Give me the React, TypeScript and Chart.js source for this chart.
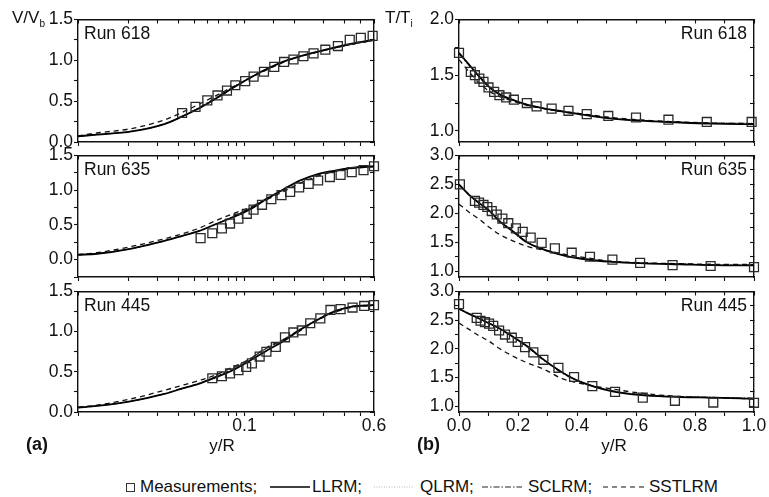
import React, { useEffect, useRef } from 'react';
import { Chart, registerables } from 'chart.js';

Chart.register(...registerables);

const FONT_FAMILY = "'Liberation Sans', Arial, Helvetica, sans-serif";

// ---------- Left column (V/Vb vs y/R, log x) ----------
const LEFT_X = [0.01, 0.013, 0.021, 0.033, 0.042, 0.053, 0.067, 0.085, 0.107, 0.135, 0.171, 0.215, 0.273, 0.345, 0.435, 0.6];

const V618_LLRM = [0.07, 0.09, 0.13, 0.22, 0.31, 0.41, 0.53, 0.66, 0.78, 0.89, 0.985, 1.05, 1.105, 1.155, 1.2, 1.25];
const V618_QLRM = [0.07, 0.09, 0.135, 0.225, 0.315, 0.415, 0.535, 0.66, 0.775, 0.885, 0.98, 1.05, 1.11, 1.16, 1.205, 1.255];
const V618_SCLRM = [0.07, 0.09, 0.13, 0.22, 0.31, 0.42, 0.54, 0.67, 0.785, 0.89, 0.98, 1.045, 1.1, 1.15, 1.195, 1.245];
const V618_SSTLRM = [0.075, 0.11, 0.165, 0.27, 0.36, 0.46, 0.565, 0.675, 0.78, 0.88, 0.975, 1.045, 1.1, 1.15, 1.2, 1.25];
const V618_MEAS_X = [0.0422, 0.0508, 0.0598, 0.0689, 0.0785, 0.0881, 0.101, 0.1135, 0.131, 0.151, 0.173, 0.197, 0.226, 0.26, 0.306, 0.364, 0.429, 0.5, 0.589];
const V618_MEAS_Y = [0.355, 0.43, 0.51, 0.57, 0.63, 0.695, 0.745, 0.8, 0.86, 0.92, 0.98, 1.01, 1.05, 1.085, 1.13, 1.175, 1.25, 1.275, 1.3];

const V635_LLRM = [0.07, 0.085, 0.16, 0.27, 0.34, 0.41, 0.51, 0.61, 0.72, 0.87, 1.01, 1.14, 1.23, 1.28, 1.32, 1.345];
const V635_QLRM = [0.07, 0.09, 0.16, 0.27, 0.345, 0.415, 0.515, 0.615, 0.725, 0.865, 1.0, 1.13, 1.225, 1.28, 1.32, 1.345];
const V635_SCLRM = [0.07, 0.085, 0.16, 0.27, 0.34, 0.41, 0.51, 0.62, 0.74, 0.88, 1.01, 1.13, 1.22, 1.275, 1.315, 1.34];
const V635_SSTLRM = [0.075, 0.1, 0.19, 0.3, 0.37, 0.45, 0.56, 0.66, 0.75, 0.86, 0.98, 1.1, 1.2, 1.27, 1.31, 1.34];
const V635_MEAS_X = [0.0545, 0.0641, 0.0732, 0.0819, 0.092, 0.1033, 0.1134, 0.1274, 0.145, 0.167, 0.188, 0.213, 0.243, 0.277, 0.326, 0.378, 0.441, 0.519, 0.6];
const V635_MEAS_Y = [0.31, 0.38, 0.45, 0.52, 0.59, 0.66, 0.72, 0.79, 0.87, 0.93, 0.975, 1.04, 1.09, 1.14, 1.19, 1.22, 1.26, 1.29, 1.345];

const V445_LLRM = [0.055, 0.075, 0.135, 0.225, 0.29, 0.35, 0.43, 0.52, 0.635, 0.76, 0.88, 1.02, 1.145, 1.25, 1.31, 1.33];
const V445_QLRM = [0.055, 0.075, 0.135, 0.23, 0.295, 0.355, 0.435, 0.525, 0.64, 0.765, 0.885, 1.02, 1.14, 1.245, 1.305, 1.33];
const V445_SCLRM = [0.055, 0.075, 0.135, 0.225, 0.29, 0.355, 0.44, 0.54, 0.66, 0.79, 0.9, 1.03, 1.15, 1.255, 1.31, 1.335];
const V445_SSTLRM = [0.06, 0.085, 0.165, 0.27, 0.33, 0.39, 0.46, 0.56, 0.655, 0.8, 0.9, 1.01, 1.14, 1.24, 1.3, 1.33];
const V445_MEAS_X = [0.0641, 0.0732, 0.0819, 0.092, 0.1024, 0.1108, 0.1234, 0.1355, 0.1543, 0.1751, 0.1967, 0.221, 0.2483, 0.2856, 0.3285, 0.378, 0.446, 0.524, 0.6];
const V445_MEAS_Y = [0.42, 0.445, 0.48, 0.52, 0.56, 0.605, 0.69, 0.75, 0.81, 0.93, 0.99, 1.015, 1.105, 1.165, 1.27, 1.28, 1.3, 1.32, 1.33];

// ---------- Right column (T/Ti vs y/R, linear x) ----------
const RIGHT_X = [0, 0.034, 0.068, 0.1, 0.136, 0.18, 0.23, 0.29, 0.35, 0.41, 0.52, 0.63, 0.75, 0.86, 1.0];

const T618_LLRM = [1.7, 1.595, 1.49, 1.4, 1.33, 1.28, 1.235, 1.2, 1.175, 1.15, 1.11, 1.09, 1.075, 1.065, 1.06];
const T618_QLRM = [1.7, 1.6, 1.5, 1.41, 1.34, 1.285, 1.24, 1.205, 1.18, 1.155, 1.115, 1.095, 1.08, 1.075, 1.075];
const T618_SCLRM = [1.69, 1.59, 1.485, 1.395, 1.33, 1.28, 1.235, 1.2, 1.17, 1.145, 1.11, 1.09, 1.075, 1.07, 1.065];
const T618_SSTLRM = [1.64, 1.53, 1.43, 1.36, 1.31, 1.27, 1.23, 1.2, 1.175, 1.155, 1.12, 1.095, 1.08, 1.07, 1.065];
const T618_MEAS_X = [0.0, 0.04, 0.054, 0.069, 0.083, 0.1, 0.119, 0.137, 0.16, 0.186, 0.23, 0.263, 0.314, 0.371, 0.433, 0.506, 0.6, 0.71, 0.84, 0.992];
const T618_MEAS_Y = [1.7, 1.53, 1.5, 1.47, 1.44, 1.39, 1.35, 1.32, 1.3, 1.28, 1.25, 1.22, 1.2, 1.18, 1.15, 1.134, 1.12, 1.1, 1.08, 1.08];

const T635_LLRM = [2.5, 2.32, 2.18, 2.06, 1.87, 1.7, 1.5, 1.37, 1.28, 1.22, 1.16, 1.135, 1.12, 1.105, 1.1];
const T635_QLRM = [2.5, 2.33, 2.19, 2.07, 1.89, 1.71, 1.51, 1.38, 1.29, 1.23, 1.17, 1.14, 1.125, 1.115, 1.11];
const T635_SCLRM = [2.49, 2.32, 2.17, 2.05, 1.87, 1.69, 1.5, 1.37, 1.28, 1.225, 1.165, 1.14, 1.125, 1.11, 1.105];
const T635_SSTLRM = [2.16, 2.02, 1.9, 1.77, 1.64, 1.53, 1.43, 1.36, 1.3, 1.25, 1.17, 1.145, 1.13, 1.12, 1.115];
const T635_MEAS_X = [0.003, 0.054, 0.068, 0.083, 0.096, 0.111, 0.128, 0.147, 0.167, 0.193, 0.216, 0.243, 0.28, 0.325, 0.382, 0.444, 0.52, 0.614, 0.724, 0.853, 1.0];
const T635_MEAS_Y = [2.5, 2.215, 2.185, 2.145, 2.11, 2.04, 1.98, 1.91, 1.83, 1.74, 1.68, 1.58, 1.49, 1.395, 1.32, 1.25, 1.2, 1.145, 1.105, 1.09, 1.07];

const T445_LLRM = [2.7, 2.61, 2.53, 2.45, 2.36, 2.22, 2.05, 1.8, 1.59, 1.43, 1.26, 1.19, 1.16, 1.15, 1.13];
const T445_QLRM = [2.7, 2.62, 2.54, 2.46, 2.37, 2.23, 2.06, 1.81, 1.6, 1.44, 1.27, 1.2, 1.165, 1.15, 1.135];
const T445_SCLRM = [2.7, 2.61, 2.53, 2.45, 2.36, 2.22, 2.04, 1.79, 1.58, 1.43, 1.27, 1.2, 1.17, 1.155, 1.14];
const T445_SSTLRM = [2.45, 2.34, 2.23, 2.14, 2.01, 1.88, 1.76, 1.64, 1.48, 1.4, 1.3, 1.22, 1.17, 1.15, 1.13];
const T445_MEAS_X = [0.0, 0.06, 0.073, 0.088, 0.102, 0.116, 0.136, 0.156, 0.179, 0.199, 0.224, 0.252, 0.286, 0.337, 0.39, 0.452, 0.529, 0.623, 0.732, 0.862, 1.0];
const T445_MEAS_Y = [2.78, 2.54, 2.49, 2.465, 2.44, 2.4, 2.32, 2.25, 2.195, 2.12, 2.03, 1.94, 1.81, 1.67, 1.51, 1.35, 1.25, 1.15, 1.095, 1.065, 1.06];

const LEFT_X_LABELS = [0.1, 0.6];
const RUN_LABELS = ['Run 618', 'Run 635', 'Run 445'];

type PanelDef = {
  id: string;
  box: [number, number, number, number];
  log: boolean;
  xMin: number;
  xMax: number;
  yMin: number;
  yMax: number;
  showX: boolean;
  cx: number[];
  llrm: number[];
  qlrm: number[];
  sclrm: number[];
  sst: number[];
  mx: number[];
  my: number[];
};

const PAD_L = 70;
const PAD_R = 20;
const PAD_T = 10;
const PAD_B = 32;

const LX: [number, number] = [78, 373.5];
const RX: [number, number] = [459, 754];
const ROWS: [number, number][] = [[18, 141.5], [154, 276.5], [289.5, 411.5]];

const PANELS: PanelDef[] = [
  { id: 'v618', box: [LX[0], ROWS[0][0], LX[1], ROWS[0][1]], log: true, xMin: 0.01, xMax: 0.6, yMin: 0, yMax: 1.5, showX: false, cx: LEFT_X, llrm: V618_LLRM, qlrm: V618_QLRM, sclrm: V618_SCLRM, sst: V618_SSTLRM, mx: V618_MEAS_X, my: V618_MEAS_Y },
  { id: 'v635', box: [LX[0], ROWS[1][0], LX[1], ROWS[1][1]], log: true, xMin: 0.01, xMax: 0.6, yMin: -0.25, yMax: 1.5, showX: false, cx: LEFT_X, llrm: V635_LLRM, qlrm: V635_QLRM, sclrm: V635_SCLRM, sst: V635_SSTLRM, mx: V635_MEAS_X, my: V635_MEAS_Y },
  { id: 'v445', box: [LX[0], ROWS[2][0], LX[1], ROWS[2][1]], log: true, xMin: 0.01, xMax: 0.6, yMin: 0, yMax: 1.5, showX: true, cx: LEFT_X, llrm: V445_LLRM, qlrm: V445_QLRM, sclrm: V445_SCLRM, sst: V445_SSTLRM, mx: V445_MEAS_X, my: V445_MEAS_Y },
  { id: 't618', box: [RX[0], ROWS[0][0], RX[1], ROWS[0][1]], log: false, xMin: 0, xMax: 1, yMin: 0.9, yMax: 2.0, showX: false, cx: RIGHT_X, llrm: T618_LLRM, qlrm: T618_QLRM, sclrm: T618_SCLRM, sst: T618_SSTLRM, mx: T618_MEAS_X, my: T618_MEAS_Y },
  { id: 't635', box: [RX[0], ROWS[1][0], RX[1], ROWS[1][1]], log: false, xMin: 0, xMax: 1, yMin: 0.9, yMax: 3.0, showX: false, cx: RIGHT_X, llrm: T635_LLRM, qlrm: T635_QLRM, sclrm: T635_SCLRM, sst: T635_SSTLRM, mx: T635_MEAS_X, my: T635_MEAS_Y },
  { id: 't445', box: [RX[0], ROWS[2][0], RX[1], ROWS[2][1]], log: false, xMin: 0, xMax: 1, yMin: 0.9, yMax: 3.0, showX: true, cx: RIGHT_X, llrm: T445_LLRM, qlrm: T445_QLRM, sclrm: T445_SCLRM, sst: T445_SSTLRM, mx: T445_MEAS_X, my: T445_MEAS_Y },
];

const INK = '#111';
const TICK_FONT = { family: FONT_FAMILY, size: 17.5 };

const pts = (xs: number[], ys: number[]) => xs.map((x, i) => ({ x, y: ys[i] }));

function lineDs(label: string, data: any[], color: string, width: number, dash: number[]) {
  return {
    label,
    data,
    showLine: true,
    pointRadius: 0,
    pointHoverRadius: 0,
    borderColor: color,
    backgroundColor: color,
    borderWidth: width,
    borderDash: dash,
    cubicInterpolationMode: 'monotone' as const,
    fill: false,
  };
}

function buildConfig(p: PanelDef): any {
  const gridOut = { display: true, drawOnChartArea: false, drawTicks: true, tickLength: 4, color: INK, tickColor: INK, tickWidth: 1.1 };
  const gridIn = { ...gridOut, tickLength: -4 };
  const border = { display: true, color: INK, width: 1.4 };
  const xLabel = (v: any) => {
    const n = Number(v);
    if (p.log) {
      for (const l of LEFT_X_LABELS) if (Math.abs(n - l) < 1e-9) return String(l);
      return '';
    }
    const k = Math.round(n * 10);
    return k % 2 === 0 ? n.toFixed(1) : '';
  };
  const yLabel = (v: any) => {
    const n = Number(v);
    return Math.abs(n * 2 - Math.round(n * 2)) < 1e-6 ? n.toFixed(1) : '';
  };
  const xBase: any = p.log
    ? { type: 'logarithmic', min: p.xMin, max: p.xMax }
    : { type: 'linear', min: p.xMin, max: p.xMax, ticks: { stepSize: 0.1 } };
  return {
    type: 'scatter',
    data: {
      datasets: [
        {
          label: 'Measurements',
          data: pts(p.mx, p.my),
          pointStyle: 'rect',
          pointRadius: 6.3,
          pointBorderWidth: 1.3,
          pointBorderColor: '#2a2a2a',
          pointBackgroundColor: 'rgba(0,0,0,0)',
          borderColor: '#2a2a2a',
          backgroundColor: 'rgba(0,0,0,0)',
          showLine: false,
          clip: false,
        },
        lineDs('LLRM', pts(p.cx, p.llrm), '#000', 1.8, []),
        lineDs('SCLRM', pts(p.cx, p.sclrm), '#222', 1.1, [6, 2, 1.5, 2]),
        lineDs('SSTLRM', pts(p.cx, p.sst), '#111', 1.3, [5, 4]),
        lineDs('QLRM', pts(p.cx, p.qlrm), '#b8b8b8', 1.2, [1, 1.5]),
      ],
    },
    options: {
      animation: false,
      responsive: false,
      maintainAspectRatio: false,
      events: [],
      layout: { padding: 0, autoPadding: false },
      plugins: { legend: { display: false }, tooltip: { enabled: false }, title: { display: false } },
      scales: {
        x: {
          ...xBase,
          position: 'bottom',
          afterFit: (s: any) => { s.height = PAD_B; },
          ticks: {
            ...(xBase.ticks || {}),
            display: p.showX,
            autoSkip: false,
            maxRotation: 0,
            padding: 0,
            color: INK,
            font: TICK_FONT,
            callback: xLabel,
          },
          grid: gridOut,
          border,
        },
        x2: {
          ...xBase,
          position: 'top',
          afterFit: (s: any) => { s.height = PAD_T; },
          ticks: { ...(xBase.ticks || {}), display: false },
          grid: gridIn,
          border,
        },
        y: {
          type: 'linear',
          min: p.yMin,
          max: p.yMax,
          position: 'left',
          afterFit: (s: any) => { s.width = PAD_L; },
          ticks: {
            stepSize: 0.25,
            includeBounds: false,
            autoSkip: false,
            padding: 1,
            color: INK,
            font: TICK_FONT,
            callback: yLabel,
          },
          grid: gridOut,
          border,
        },
        y2: {
          type: 'linear',
          min: p.yMin,
          max: p.yMax,
          position: 'right',
          afterFit: (s: any) => { s.width = PAD_R; },
          ticks: { stepSize: 0.25, includeBounds: false, display: false },
          grid: gridIn,
          border,
        },
      },
    },
  };
}

function Panel({ def }: { def: PanelDef }) {
  const ref = useRef<HTMLCanvasElement>(null);
  const [l, t, r, b] = def.box;
  const left = l - PAD_L;
  const top = t - PAD_T;
  const w = Math.round(r - l + PAD_L + PAD_R);
  const h = Math.round(b - t + PAD_T + PAD_B);
  useEffect(() => {
    const chart = new Chart(ref.current as HTMLCanvasElement, buildConfig(def));
    return () => chart.destroy();
  }, []);
  return (
    <canvas
      ref={ref}
      width={w}
      height={h}
      style={{ position: 'absolute', left, top, width: w, height: h, display: 'block' }}
    />
  );
}

const txt: React.CSSProperties = {
  position: 'absolute',
  fontSize: 17,
  lineHeight: '20px',
  whiteSpace: 'nowrap',
  color: INK,
};

function LineSample({ x, w, dash, color, width }: { x: number; w: number; dash?: string; color: string; width: number }) {
  return (
    <svg style={{ position: 'absolute', left: x, top: 482 }} width={w} height={10}>
      <line x1={0} y1={5} x2={w} y2={5} stroke={color} strokeWidth={width} strokeDasharray={dash} />
    </svg>
  );
}

export default function App() {
  return (
    <div
      style={{
        position: 'absolute',
        left: 0,
        top: 0,
        width: 769,
        height: 497,
        overflow: 'hidden',
        background: '#fff',
        fontFamily: FONT_FAMILY,
      }}
    >
      {PANELS.map((p) => (
        <Panel key={p.id} def={p} />
      ))}

      <div style={{ ...txt, left: 12, top: 8 }}>
        V/V<span style={{ fontSize: 10, position: 'relative', top: 4 }}>b</span>
      </div>
      <div style={{ ...txt, left: 385, top: 8 }}>
        T/T<span style={{ fontSize: 10, position: 'relative', top: 4 }}>i</span>
      </div>

      {RUN_LABELS.map((lab, i) => (
        <div key={'l' + i} style={{ ...txt, fontSize: 17.5, left: 84, top: ROWS[i][0] + 5 }}>{lab}</div>
      ))}
      {RUN_LABELS.map((lab, i) => (
        <div key={'r' + i} style={{ ...txt, fontSize: 17.5, left: 600, width: 147, textAlign: 'right', top: ROWS[i][0] + 5 }}>{lab}</div>
      ))}

      <div style={{ ...txt, fontSize: 18, left: 26, top: 434, fontWeight: 'bold' }}>(a)</div>
      <div style={{ ...txt, fontSize: 18, left: 417, top: 434, fontWeight: 'bold' }}>(b)</div>
      <div style={{ ...txt, left: 172, width: 100, textAlign: 'center', top: 436 }}>y/R</div>
      <div style={{ ...txt, left: 564, width: 100, textAlign: 'center', top: 436 }}>y/R</div>

      {/* Legend */}
      <div style={{ position: 'absolute', left: 126, top: 483, width: 7, height: 7, border: '1px solid #333' }} />
      <div style={{ ...txt, left: 140, top: 477 }}>Measurements;</div>
      <LineSample x={270} w={40} color="#000" width={1.5} />
      <div style={{ ...txt, left: 312, top: 477 }}>LLRM;</div>
      <LineSample x={374} w={40} color="#b8b8b8" width={1.2} dash="1 1.5" />
      <div style={{ ...txt, left: 420, top: 477 }}>QLRM;</div>
      <LineSample x={482} w={40} color="#222" width={1} dash="6 2 1.5 2" />
      <div style={{ ...txt, left: 528, top: 477 }}>SCLRM;</div>
      <LineSample x={603} w={43} color="#111" width={1.2} dash="5 4" />
      <div style={{ ...txt, left: 649, top: 477 }}>SSTLRM</div>
    </div>
  );
}
